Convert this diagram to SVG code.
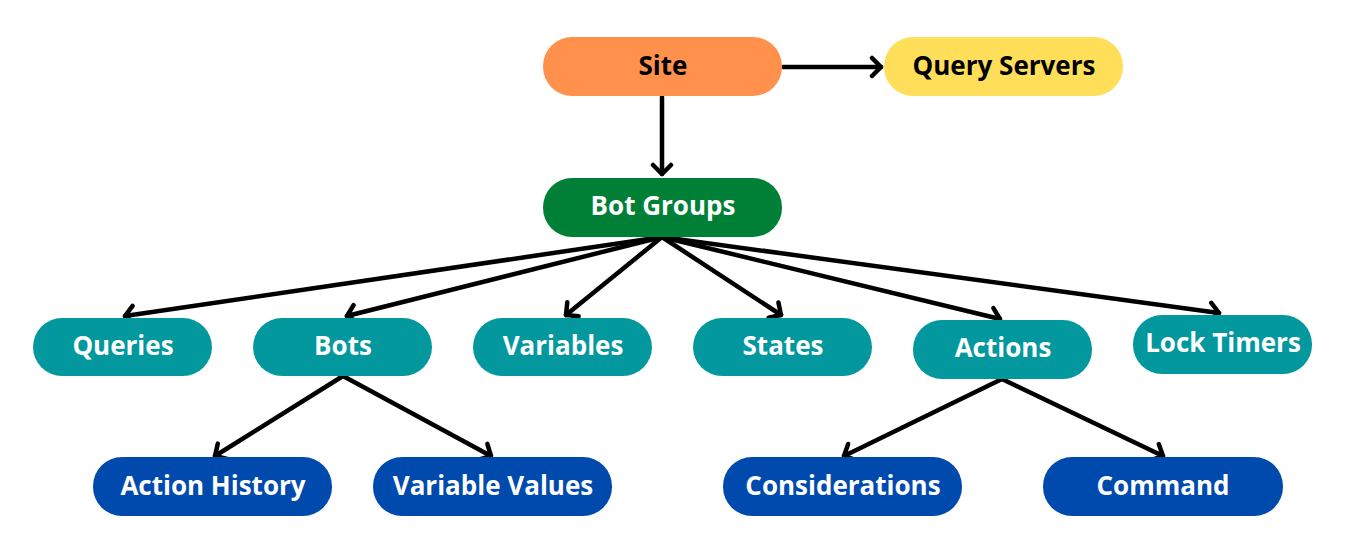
<svg xmlns="http://www.w3.org/2000/svg" width="1345" height="552" viewBox="0 0 1345 552">
<defs>
<marker id="arr" markerUnits="userSpaceOnUse" markerWidth="24" markerHeight="24" refX="12" refY="12" orient="auto" viewBox="0 0 24 24">
<path d="M3,3 L12,12 L3,21" fill="none" stroke="#000" stroke-width="4.5" stroke-linecap="round" stroke-linejoin="round"/>
</marker>
<style>
.n rect{rx:29px;ry:29px}
.n text{font-family:"Open Sans","Noto Sans","Liberation Sans",sans-serif;font-weight:700;font-size:26px;text-anchor:middle;dominant-baseline:central}
.w text{fill:#fff}
.k text{fill:#000}
.c line{stroke:#000;stroke-width:4.5;stroke-linecap:round;marker-end:url(#arr)}
</style>
</defs>
<rect width="1345" height="552" fill="#fff"/>
<g id="connectors" class="c">
<line x1="783" y1="67" x2="881" y2="67"/>
<line x1="662" y1="97" x2="662" y2="174"/>
<line x1="662" y1="237" x2="125" y2="316"/>
<line x1="662" y1="237" x2="347" y2="316"/>
<line x1="662" y1="237" x2="566" y2="315"/>
<line x1="662" y1="237" x2="781" y2="315"/>
<line x1="662" y1="237" x2="1000" y2="319"/>
<line x1="662" y1="237" x2="1219" y2="313"/>
<line x1="343" y1="376" x2="215" y2="456"/>
<line x1="343" y1="376" x2="491" y2="456"/>
<line x1="1002" y1="379" x2="844" y2="456"/>
<line x1="1002" y1="379" x2="1163" y2="456"/>
</g>
<g id="site" class="n k"><rect x="543" y="37" width="239" height="59" fill="#FF914D"/><text x="663" y="65">Site</text></g>
<g id="query-servers" class="n k"><rect x="884" y="37" width="239" height="59" fill="#FFDE59"/><text x="1004" y="65">Query Servers</text></g>
<g id="bot-groups" class="n w"><rect x="543" y="178" width="239" height="59" fill="#008037"/><text x="663" y="205">Bot Groups</text></g>
<g id="queries" class="n w"><rect x="33" y="318" width="179" height="58" fill="#03989E"/><text x="123" y="345">Queries</text></g>
<g id="bots" class="n w"><rect x="253" y="318" width="179" height="58" fill="#03989E"/><text x="343" y="345">Bots</text></g>
<g id="variables" class="n w"><rect x="473" y="318" width="179" height="58" fill="#03989E"/><text x="563" y="345">Variables</text></g>
<g id="states" class="n w"><rect x="693" y="318" width="179" height="58" fill="#03989E"/><text x="783" y="345">States</text></g>
<g id="actions" class="n w"><rect x="913" y="320" width="179" height="59" fill="#03989E"/><text x="1003" y="347">Actions</text></g>
<g id="lock-timers" class="n w"><rect x="1133" y="315" width="179" height="59" fill="#03989E"/><text x="1223" y="342">Lock Timers</text></g>
<g id="action-history" class="n w"><rect x="93" y="457" width="239" height="59" fill="#004AAD"/><text x="213" y="485">Action History</text></g>
<g id="variable-values" class="n w"><rect x="373" y="457" width="239" height="59" fill="#004AAD"/><text x="493" y="485">Variable Values</text></g>
<g id="considerations" class="n w"><rect x="723" y="457" width="239" height="59" fill="#004AAD"/><text x="843" y="485">Considerations</text></g>
<g id="command" class="n w"><rect x="1043" y="457" width="240" height="59" fill="#004AAD"/><text x="1163" y="485">Command</text></g>
</svg>
